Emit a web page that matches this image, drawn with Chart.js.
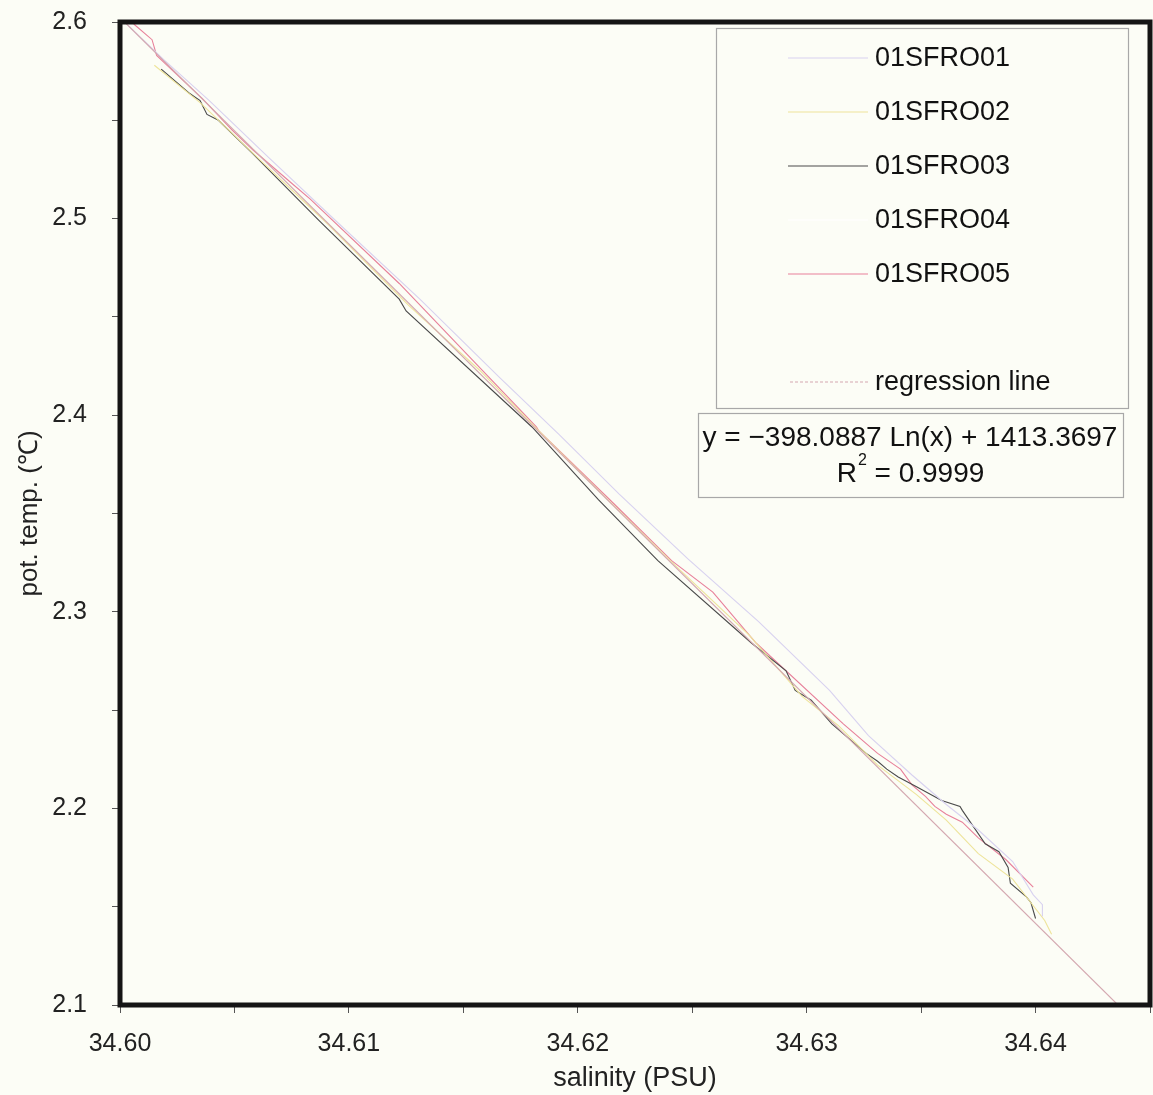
<!DOCTYPE html>
<html><head><meta charset="utf-8">
<script src="https://cdn.jsdelivr.net/npm/chart.js@4.4.1/dist/chart.umd.min.js"></script>
<style>html,body{margin:0;padding:0;background:#fcfdf6;} #wrap{width:1153px;height:1095px;}</style>
</head><body><div id="wrap"><canvas id="c" width="1153" height="1095"></canvas></div>
<script>
// ---- data ----
const seriesNames = ['01SFRO01','01SFRO02','01SFRO03','01SFRO04','01SFRO05'];
const regressionName = 'regression line';
const equationLine1 = 'y = \u2212398.0887 Ln(x) + 1413.3697';
const equationR2 = '0.9999';
const xTitle = 'salinity (PSU)';
const yTitle = 'pot. temp. (\u2103)';

const sal01 = [34.6002,34.6019,34.6039,34.6065,34.6096,34.6131,34.6166,34.6192,34.6218,34.6248,34.6279,34.6310,34.6327,34.6346,34.6361,34.6375,34.6390,34.6399,34.6403,34.6403];
const temp01 = [2.600,2.581,2.560,2.531,2.497,2.459,2.419,2.390,2.360,2.327,2.295,2.260,2.237,2.217,2.202,2.189,2.173,2.156,2.151,2.145];

const sal02 = [34.6015,34.6035,34.6061,34.6091,34.6126,34.6157,34.6183,34.6214,34.6244,34.6275,34.6298,34.6314,34.6331,34.6348,34.6361,34.6375,34.6390,34.6404,34.6407];
const temp02 = [2.578,2.559,2.530,2.497,2.456,2.423,2.392,2.356,2.322,2.288,2.257,2.242,2.222,2.207,2.194,2.177,2.164,2.143,2.136];

const sal03 = [34.6018,34.6030,34.6035,34.6038,34.6043,34.6058,34.6087,34.6122,34.6125,34.6180,34.6209,34.6235,34.6276,34.6291,34.6295,34.6302,34.6311,34.6326,34.6331,34.6335,34.6340,34.6348,34.6359,34.6367,34.6368,34.6378,34.6384,34.6388,34.6389,34.6396,34.6398,34.6400];
const temp03 = [2.576,2.564,2.560,2.553,2.550,2.533,2.499,2.459,2.453,2.394,2.357,2.326,2.284,2.270,2.260,2.255,2.243,2.228,2.224,2.220,2.216,2.211,2.204,2.201,2.199,2.182,2.178,2.170,2.162,2.155,2.152,2.144];

const sal04 = [];   // drawn in white in the original: not readable
const temp04 = [];

const sal05 = [34.6006,34.6014,34.6016,34.6036,34.6049,34.6058,34.6075,34.6083,34.6122,34.6182,34.6183,34.6214,34.6241,34.6259,34.6278,34.6316,34.6331,34.6341,34.6346,34.6352,34.6356,34.6361,34.6368,34.6375,34.6387,34.6399];
const temp05 = [2.599,2.591,2.583,2.561,2.545,2.535,2.518,2.510,2.467,2.394,2.392,2.357,2.326,2.310,2.284,2.243,2.228,2.220,2.212,2.206,2.201,2.197,2.193,2.185,2.174,2.160];

const salReg = [34.6002, 34.6436];
const tempReg = [2.600, 2.100];

const xMin = 34.60, xMax = 34.645, xStep = 0.005;
const yMin = 2.1, yMax = 2.6, yStep = 0.05;

// ---- styling ----
const FONT = '"Liberation Sans", Arial, sans-serif';
const BG = '#fcfdf6';
const seriesColors = ['#d8d2f0','#eee49a','#4a4a4a','#ffffff','#e8809a'];
const regColor = '#d4a8b0';

function pts(xs, ys){ return xs.map((x,i)=>({x:x, y:ys[i]})); }
const allSal = [sal01, sal02, sal03, sal04, sal05];
const allTemp = [temp01, temp02, temp03, temp04, temp05];

const datasets = seriesNames.map((n,i)=>({
  label:n, data:pts(allSal[i], allTemp[i]), borderColor:seriesColors[i], backgroundColor:seriesColors[i],
  showLine:true, pointRadius:0, borderWidth:1.1, tension:0
}));
datasets.unshift({
  label:regressionName, data:pts(salReg, tempReg), borderColor:regColor, backgroundColor:regColor,
  showLine:true, pointRadius:0, borderWidth:1.1, tension:0, isReg:true
});

const bgPlugin = {
  id:'bg',
  beforeDraw(chart){ const c=chart.ctx; c.save(); c.fillStyle=BG; c.fillRect(0,0,chart.width,chart.height); c.restore(); }
};

const framePlugin = {
  id:'frame',
  afterDraw(chart){
    const c = chart.ctx, a = chart.chartArea;
    c.save();
    // legend box
    const lb = {x:716, y:28, w:412, h:380};
    c.fillStyle = BG; c.fillRect(lb.x, lb.y, lb.w, lb.h);
    c.strokeStyle = '#a8a8a8'; c.lineWidth = 1.2; c.strokeRect(lb.x+0.5, lb.y+0.5, lb.w, lb.h);
    c.font = '27px ' + FONT; c.fillStyle = '#111'; c.textBaseline = 'middle'; c.textAlign = 'left';
    const rows = [58,112,166,220,274];
    chart.data.datasets.filter(d=>!d.isReg).forEach((d,i)=>{
      c.strokeStyle = d.borderColor; c.lineWidth = 1.2; c.setLineDash([]);
      c.beginPath(); c.moveTo(788, rows[i]); c.lineTo(868, rows[i]); c.stroke();
      c.fillText(d.label, 875, rows[i]+1);
    });
    const reg = chart.data.datasets.find(d=>d.isReg);
    c.strokeStyle = reg.borderColor; c.lineWidth = 1.2; c.setLineDash([3,2]);
    c.beginPath(); c.moveTo(790, 382); c.lineTo(868, 382); c.stroke(); c.setLineDash([]);
    c.fillText(reg.label, 875, 383);
    // equation box
    const eb = {x:698, y:413, w:425, h:84};
    c.fillStyle = BG; c.fillRect(eb.x, eb.y, eb.w, eb.h);
    c.strokeStyle = '#a8a8a8'; c.lineWidth = 1.2; c.strokeRect(eb.x+0.5, eb.y+0.5, eb.w, eb.h);
    c.fillStyle = '#111'; c.textAlign = 'center';
    c.font = '28px ' + FONT;
    c.fillText(equationLine1, 910, 438);
    const p1 = 'R', p3 = ' = ' + equationR2;
    const w1 = c.measureText(p1).width, w3 = c.measureText(p3).width;
    c.font = '16px ' + FONT; const w2 = c.measureText('2').width;
    const x0 = 910 - (w1+w2+w3)/2;
    c.textAlign = 'left';
    c.font = '28px ' + FONT; c.fillText(p1, x0, 474);
    c.font = '16px ' + FONT; c.fillText('2', x0+w1+1, 461);
    c.font = '28px ' + FONT; c.fillText(p3, x0+w1+w2+1, 474);
    // thick frame
    c.strokeStyle = '#151515'; c.lineWidth = 5;
    c.strokeRect(a.left, a.top, a.right-a.left, a.bottom-a.top);
    c.restore();
  }
};

new Chart(document.getElementById('c'), {
  type:'scatter',
  data:{ datasets },
  options:{
    responsive:false, animation:false, devicePixelRatio:1,
    layout:{ padding:{ top:22, right:3, left:0, bottom:0 } },
    plugins:{ legend:{display:false}, tooltip:{enabled:false} },
    scales:{
      x:{
        type:'linear', min:xMin, max:xMax,
        afterFit(s){ s.height = 90; s.paddingLeft = 0; s.paddingRight = 0; },
        ticks:{ stepSize:xStep, autoSkip:false, maxRotation:0, padding:16, color:'#222',
          font:{ size:25, family:FONT },
          callback(v){ const r=Math.round(v*100); return Math.abs(v*100-r)<1e-4 ? (r/100).toFixed(2) : ''; } },
        grid:{ drawOnChartArea:false, drawTicks:true, tickLength:8, tickColor:'#555', tickWidth:1 },
        border:{ display:false },
        title:{ display:true, text:xTitle, color:'#222', font:{ size:27, family:FONT }, padding:{top:0,bottom:0} }
      },
      y:{
        type:'linear', min:yMin, max:yMax,
        afterFit(s){ s.width = 120; s.paddingTop = 0; s.paddingBottom = 0; },
        ticks:{ stepSize:yStep, autoSkip:false, padding:25, color:'#222',
          font:{ size:25, family:FONT },
          callback(v){ const r=Math.round(v*10); return Math.abs(v*10-r)<1e-4 ? (r/10).toFixed(1) : ''; } },
        grid:{ drawOnChartArea:false, drawTicks:true, tickLength:8, tickColor:'#555', tickWidth:1 },
        border:{ display:false },
        title:{ display:true, text:yTitle, color:'#222', font:{ size:26, family:FONT }, padding:{top:14,bottom:0} }
      }
    }
  },
  plugins:[bgPlugin, framePlugin]
});
</script>
</body></html>
